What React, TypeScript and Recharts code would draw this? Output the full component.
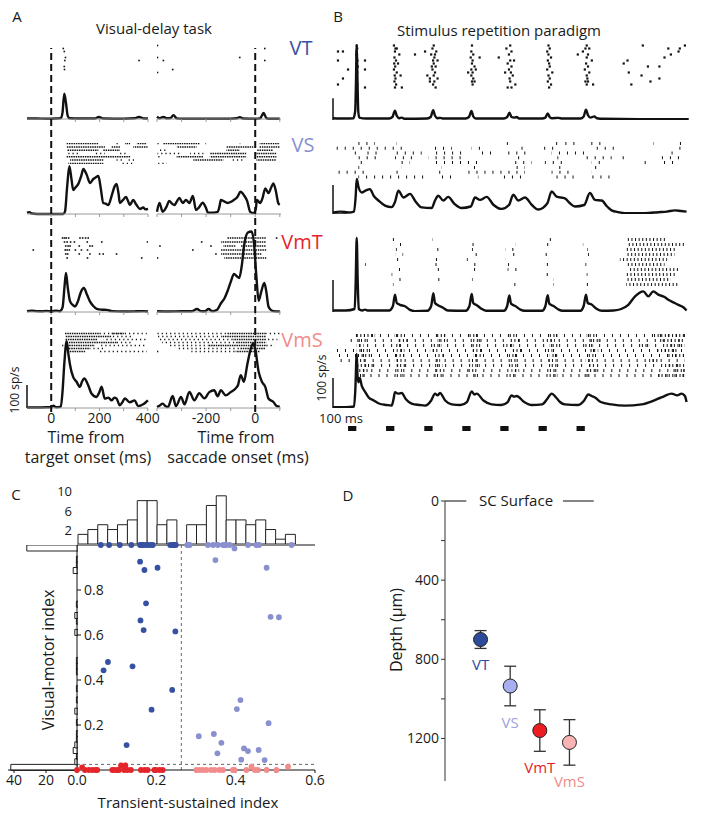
import React from 'react';
import {
  Bar,
  BarChart,
  ErrorBar,
  Line,
  LineChart,
  ReferenceArea,
  ReferenceLine,
  Scatter,
  ScatterChart,
  XAxis,
  YAxis,
} from 'recharts';

type Pt = [number, number];
type Seg = [number, number, number]; // trial, start, end

const INK = '#111';
const FONT = '"Open Sans", Lato, sans-serif';
const NO_MARGIN = { top: 0, right: 0, bottom: 0, left: 0 };

const BLUE = '#3650a2';
const LAV = '#8a8fd0';
const RED = '#e4262b';
const PINK = '#f28c8c';

// ---------- panel A: visual-delay task ----------
const A_LEFT: Pt = [-100, 400];
const A_RIGHT: Pt = [-400, 105];

const psthVtL: Pt[] = [[-100, 2], [-60, 2], [-20, 1], [20, 2], [40, 4], [47, 30], [54, 110], [61, 70], [68, 15], [76, 3], [120, 2], [180, 2], [197, 9], [215, 2], [300, 1], [345, 3], [363, 9], [385, 2], [400, 2]];
const psthVtR: Pt[] = [[-400, 10], [-390, 3], [-374, 9], [-360, 3], [-345, 4], [-333, 17], [-320, 3], [-300, 1], [-200, 1], [-100, 1], [-75, 3], [-63, 8], [-50, 2], [0, 1], [20, 3], [34, 26], [46, 3], [60, 1], [100, 1]];
const psthVsL: Pt[] = [[-100, 6], [-90, 8], [-80, 2], [-60, 0], [50, 0], [57, 10], [66, 120], [75, 208], [84, 150], [91, 104], [100, 115], [112, 131], [124, 165], [133, 196], [140, 185], [147, 170], [160, 135], [174, 152], [185, 160], [195, 165], [205, 110], [215, 48], [225, 45], [236, 39], [250, 80], [262, 120], [270, 131], [278, 90], [284, 48], [296, 60], [309, 74], [318, 55], [325, 39], [339, 61], [352, 40], [367, 22], [380, 28], [390, 20], [400, 22]];
const psthVsR: Pt[] = [[-400, 10], [-390, 48], [-377, 10], [-362, 30], [-350, 57], [-339, 45], [-329, 39], [-319, 55], [-309, 70], [-295, 48], [-282, 61], [-268, 48], [-254, 78], [-241, 17], [-228, 30], [-214, 49], [-200, 25], [-193, 6], [-170, 6], [-153, 9], [-145, 35], [-140, 61], [-127, 55], [-113, 48], [-100, 52], [-87, 61], [-72, 75], [-60, 97], [-45, 80], [-33, 57], [-20, 9], [-7, 4], [2, 20], [7, 61], [20, 48], [30, 70], [41, 111], [54, 91], [65, 115], [74, 133], [84, 100], [94, 47], [100, 40]];
const psthVmtL: Pt[] = [[-100, 4], [-80, 6], [-60, 4], [-40, 3], [-20, 5], [0, 3], [20, 6], [35, 3], [47, 20], [55, 110], [61, 170], [68, 110], [78, 46], [90, 30], [98, 24], [110, 45], [122, 85], [135, 104], [148, 75], [160, 46], [175, 25], [188, 14], [210, 10], [229, 9], [250, 4], [300, 2], [350, 3], [380, 4], [400, 2]];
const psthVmtR: Pt[] = [[-400, 3], [-350, 2], [-300, 3], [-260, 3], [-237, 13], [-220, 3], [-205, 3], [-190, 13], [-175, 3], [-155, 10], [-139, 39], [-125, 60], [-113, 90], [-100, 130], [-86, 165], [-75, 155], [-65, 148], [-55, 200], [-45, 290], [-30, 345], [-15, 350], [-5, 300], [5, 150], [14, 49], [25, 90], [37, 126], [45, 90], [54, 24], [65, 8], [74, 4], [100, 2]];
const psthVmsL: Pt[] = [[-100, 2], [-60, 2], [-20, 3], [0, 4], [10, 10], [20, 3], [40, 6], [47, 70], [55, 200], [64, 290], [72, 230], [78, 188], [91, 135], [105, 114], [119, 92], [128, 115], [137, 128], [153, 100], [167, 63], [188, 48], [200, 70], [209, 92], [222, 41], [237, 45], [250, 33], [262, 45], [271, 41], [284, 12], [295, 25], [305, 42], [325, 25], [346, 33], [360, 8], [381, 16], [392, 25], [401, 33]];
const psthVmsR: Pt[] = [[-400, 4], [-390, 10], [-377, 19], [-365, 8], [-356, 4], [-336, 52], [-323, 8], [-302, 48], [-288, 16], [-268, 70], [-248, 33], [-228, 64], [-207, 42], [-187, 69], [-167, 77], [-153, 51], [-140, 77], [-120, 55], [-100, 69], [-80, 85], [-70, 100], [-59, 143], [-46, 114], [-33, 185], [-20, 250], [-9, 280], [0, 257], [14, 157], [28, 113], [41, 92], [54, 41], [74, 26], [88, 8], [100, 6]];

// spike rasters: dots are [time, trial]
const vtLeftDots: Pt[] = [[50, 1], [54, 2], [59, 4], [56, 5], [54, 7], [55, 8], [363, 5]];
const vtRightDots: Pt[] = [[-398, 0], [-398, 4], [-374, 5], [-398, 9], [-336, 8], [-63, 4], [39, 1], [39, 5]];

const vsLeftDense: Seg[] = [[0, 64, 195], [0, 305, 326], [0, 353, 395], [1, 64, 222], [1, 250, 284], [1, 339, 398], [2, 64, 195], [2, 215, 284], [4, 64, 326], [5, 78, 215], [6, 71, 215]];
const vsLeftSparse: Seg[] = [[0, 270, 284], [3, 64, 122], [3, 181, 222], [3, 284, 312], [5, 270, 300], [5, 320, 350], [6, 290, 340]];
const vsRightDense: Seg[] = [[0, -374, -225], [0, 18, 100], [1, -320, -239], [1, -117, -8], [1, 18, 100], [2, -117, -63], [2, 5, 72], [3, -185, -37], [3, 5, 86], [4, -320, -211], [4, -185, -37], [4, 5, 86], [5, -252, -130], [5, 5, 86]];
const vsRightSparse: Seg[] = [[0, -398, -388], [0, -63, -51], [0, -214, -200], [2, -398, -361], [3, -398, -300], [3, -265, -211], [4, -398, -388], [5, -398, -390], [5, -100, -40], [6, -395, -360]];

const vmtLeftDots: Pt[] = [[47, 0], [55, 0], [62, 0], [72, 0], [119, 0], [130, 0], [142, 0], [153, 0], [55, 1], [66, 1], [80, 1], [96, 1], [149, 1], [209, 1], [398, 1], [60, 2], [70, 2], [78, 2], [116, 2], [160, 2], [170, 2], [-74, 3], [58, 3], [66, 3], [75, 3], [100, 3], [125, 3], [150, 3], [60, 4], [68, 4], [116, 4], [160, 4], [200, 4], [215, 4], [270, 4], [66, 5], [150, 5], [374, 5]];
const vmtRightDense: Seg[] = [[0, -113, 45], [1, -139, 45], [2, -130, -80], [2, -60, 45], [3, -139, 45], [4, -139, 25], [5, -126, 45]];
const vmtRightDots: Pt[] = [[-218, 1], [-388, 2], [-254, 3], [-398, 5], [87, 0], [-160, 4], [-180, 2]];

const vmsLeftDense: Seg[] = [[0, 57, 200], [0, 250, 300], [1, 57, 250], [2, 57, 190], [3, 64, 270], [4, 57, 180], [5, 57, 160], [6, 64, 140]];
const vmsLeftSparse: Seg[] = [[0, 200, 395], [1, 250, 340], [2, 215, 395], [3, 270, 330], [4, 36, 57], [4, 200, 395], [5, 160, 220], [6, 200, 395]];
const vmsRightDense: Seg[] = [[0, -113, 45], [1, -139, 45], [2, -90, 45], [3, -80, 45], [4, -190, 45], [5, -60, 40], [6, -80, 20]];
const vmsRightSparse: Seg[] = [[0, -398, -113], [0, 45, 100], [1, -398, -139], [2, -398, -90], [2, 45, 90], [3, -380, -80], [4, -350, -190], [4, 45, 80], [5, -320, -60], [6, -260, -80]];
const vmsRightDots: Pt[] = [[-398, 6]];

// ---------- panel B: stimulus repetition ----------
const B_DOMAIN: Pt = [0, 2800];
const stimOnsets = [118, 416, 716, 1014, 1312, 1612, 1910];
const stimDuration = 65;

const psthB1: Pt[] = [[0, 6], [100, 5], [160, 6], [174, 30], [180, 120], [186, 250], [192, 130], [198, 30], [206, 8], [260, 5], [440, 5], [466, 10], [486, 31], [500, 14], [520, 6], [540, 8], [560, 4], [740, 5], [766, 10], [786, 33], [800, 14], [820, 6], [840, 7], [860, 5], [1040, 5], [1066, 10], [1086, 30], [1100, 12], [1120, 5], [1340, 5], [1366, 10], [1384, 24], [1400, 10], [1420, 8], [1440, 10], [1460, 5], [1640, 5], [1666, 8], [1684, 22], [1700, 10], [1720, 6], [1767, 7], [1800, 5], [1940, 5], [1966, 12], [1984, 34], [2000, 16], [2020, 8], [2050, 12], [2070, 6], [2120, 4], [2400, 3], [2790, 3]];
const psthB2: Pt[] = [[0, 5], [60, 8], [120, 5], [165, 8], [178, 60], [186, 117], [200, 90], [225, 72], [255, 78], [290, 83], [320, 60], [356, 45], [408, 28], [460, 23], [486, 40], [513, 78], [552, 55], [604, 67], [650, 40], [695, 22], [774, 20], [800, 45], [826, 61], [865, 45], [904, 57], [950, 35], [1009, 20], [1080, 25], [1114, 55], [1153, 47], [1205, 57], [1260, 30], [1323, 17], [1380, 30], [1414, 64], [1453, 45], [1506, 55], [1560, 30], [1610, 15], [1680, 35], [1715, 75], [1754, 58], [1819, 52], [1860, 35], [1898, 25], [1970, 30], [2015, 70], [2055, 47], [2107, 45], [2150, 25], [2185, 12], [2240, 6], [2290, 3], [2447, 3], [2551, 6], [2620, 8], [2682, 12], [2730, 10], [2773, 8]];
const psthB3: Pt[] = [[0, 5], [100, 5], [170, 10], [178, 100], [186, 247], [194, 100], [202, 10], [230, 5], [251, 8], [270, 5], [440, 5], [470, 20], [486, 58], [500, 30], [525, 24], [565, 19], [600, 8], [643, 3], [740, 4], [770, 20], [787, 63], [800, 30], [826, 22], [860, 15], [900, 5], [1040, 4], [1070, 20], [1088, 60], [1100, 30], [1130, 22], [1160, 12], [1200, 4], [1340, 4], [1366, 20], [1383, 55], [1396, 28], [1430, 20], [1470, 8], [1500, 4], [1640, 4], [1666, 20], [1684, 56], [1696, 28], [1730, 20], [1770, 8], [1800, 4], [1940, 4], [1966, 20], [1984, 58], [1998, 30], [2028, 25], [2070, 10], [2110, 4], [2200, 5], [2260, 10], [2316, 24], [2369, 52], [2434, 69], [2473, 52], [2512, 69], [2551, 58], [2600, 50], [2630, 41], [2680, 30], [2708, 24], [2750, 15], [2773, 5]];
const psthB4: Pt[] = [[0, 3], [100, 3], [165, 5], [175, 60], [186, 180], [192, 110], [199, 86], [210, 100], [225, 75], [250, 55], [280, 35], [320, 25], [360, 15], [420, 10], [460, 8], [475, 30], [486, 53], [510, 48], [539, 50], [570, 30], [617, 15], [680, 10], [722, 8], [770, 25], [800, 48], [820, 42], [839, 50], [880, 25], [931, 12], [1000, 10], [1050, 20], [1088, 55], [1110, 45], [1127, 48], [1180, 25], [1244, 12], [1320, 10], [1370, 20], [1401, 42], [1420, 38], [1440, 40], [1500, 20], [1558, 10], [1640, 12], [1680, 30], [1715, 48], [1740, 40], [1780, 20], [1819, 12], [1924, 10], [1970, 25], [2002, 45], [2030, 40], [2055, 35], [2100, 20], [2185, 12], [2290, 8], [2421, 12], [2500, 22], [2551, 31], [2600, 40], [2656, 48], [2700, 42], [2734, 48], [2760, 40], [2773, 20]];

const b1Dots: Pt[] = [
  [39, 2], [78, 2], [39, 13], [118, 8], [78, 11], [251, 5], [251, 8], [251, 14], [39, 5],
  [186, 0], [190, 1], [184, 2], [188, 3], [186, 4], [192, 5], [185, 6], [189, 7], [186, 8], [190, 9], [184, 10], [188, 11], [186, 12], [191, 13], [187, 14], [185, 15], [182, 3], [194, 7], [183, 11],
  [478, 0], [490, 1], [500, 1], [486, 2], [520, 3], [482, 4], [494, 5], [480, 6], [510, 6], [488, 7], [478, 8], [500, 9], [484, 10], [530, 10], [490, 11], [482, 12], [495, 13], [486, 14], [540, 14], [643, 3], [722, 2],
  [790, 0], [780, 1], [810, 2], [770, 3], [800, 3], [795, 4], [785, 5], [820, 5], [790, 6], [775, 7], [805, 7], [780, 8], [800, 9], [790, 10], [760, 11], [820, 11], [795, 12], [785, 13], [805, 14], [740, 10], [760, 12],
  [1090, 0], [1085, 2], [1100, 3], [1080, 4], [1095, 5], [1090, 6], [1110, 7], [1085, 8], [1120, 8], [1095, 9], [1085, 10], [1100, 11], [1090, 12], [1110, 12], [1095, 13], [1060, 9], [1150, 4],
  [1390, 0], [1360, 1], [1400, 2], [1380, 3], [1300, 4], [1390, 5], [1420, 5], [1370, 6], [1400, 7], [1380, 8], [1350, 9], [1395, 9], [1410, 10], [1385, 11], [1390, 12], [1430, 13], [1370, 14], [1400, 14],
  [1690, 0], [1700, 1], [1680, 2], [1690, 3], [1710, 4], [1685, 5], [1695, 6], [1700, 7], [1680, 8], [1720, 9], [1690, 10], [1700, 11], [1685, 12], [1710, 13], [1695, 14],
  [1990, 0], [1980, 1], [2010, 1], [1960, 2], [2000, 3], [1990, 4], [2030, 5], [1985, 6], [2000, 7], [1975, 8], [2010, 9], [1990, 10], [1995, 11], [1980, 12], [2000, 12], [1990, 13], [2040, 13], [1920, 3],
  [2430, 0], [2760, 0], [2630, 1], [2710, 2], [2310, 5], [2280, 6], [2470, 7], [2560, 7], [2320, 9], [2420, 10], [2560, 11], [2650, 3], [2720, 1], [2600, 4], [2490, 12], [2340, 13],
];

const b2Ticks: Seg[] = [
  [0, 199, 329], [0, 499, 552], [0, 800, 839], [0, 1114, 1127], [0, 1323, 1401], [0, 1715, 1767], [0, 1793, 1924], [0, 2002, 2133], [0, 2512, 2564], [0, 2669, 2747],
  [1, 0, 552], [1, 800, 931], [1, 1087, 1166], [1, 1427, 1506], [1, 1610, 1767], [1, 2028, 2238], [1, 2682, 2760],
  [2, 120, 199], [2, 225, 356], [2, 460, 695], [2, 774, 1035], [2, 1140, 1244], [2, 1375, 1558], [2, 1715, 2002], [2, 2604, 2708],
  [3, 173, 382], [3, 486, 643], [3, 748, 1035], [3, 1401, 1480], [3, 1715, 1767], [3, 1950, 2185], [3, 2238, 2290], [3, 2551, 2760],
  [4, 173, 277], [4, 499, 604], [4, 774, 1140], [4, 1401, 1558], [4, 1662, 1819], [4, 2028, 2133], [4, 2394, 2473], [4, 2551, 2708],
  [5, 199, 251], [5, 539, 565], [5, 800, 852], [5, 1061, 1114], [5, 1401, 1506], [5, 1741, 1793], [5, 2028, 2107],
  [6, 0, 251], [6, 460, 539], [6, 800, 878], [6, 1035, 1506], [6, 1715, 1872], [6, 2028, 2055], [6, 2630, 2645],
  [7, 94, 120], [7, 199, 722], [7, 800, 931], [7, 1087, 1140], [7, 1297, 1506], [7, 1715, 1924], [7, 2002, 2211],
];

const b3Sparse: Seg[] = [
  [0, 470, 520], [0, 780, 830], [0, 1070, 1110], [0, 1350, 1390], [0, 1660, 1720], [0, 1960, 1990],
  [1, 16, 26], [1, 480, 540], [1, 760, 800], [1, 1060, 1120], [1, 1400, 1430], [1, 1680, 1740], [1, 1960, 2010],
  [2, 460, 500], [2, 790, 840], [2, 1090, 1130], [2, 1350, 1420], [2, 1670, 1700], [2, 1950, 2000], [2, 2200, 2220],
  [3, 490, 550], [3, 750, 800], [3, 983, 1000], [3, 1080, 1140], [3, 1380, 1440], [3, 1640, 1700], [3, 2000, 2030],
  [4, 100, 110], [4, 470, 520], [4, 780, 840], [4, 1050, 1090], [4, 1350, 1400], [4, 1700, 1740], [4, 1950, 1990],
  [5, 251, 260], [5, 356, 365], [5, 500, 540], [5, 760, 820], [5, 1070, 1120], [5, 1340, 1380], [5, 1650, 1700], [5, 1980, 2020],
  [6, 480, 530], [6, 790, 830], [6, 1080, 1130], [6, 1370, 1440], [6, 1680, 1720], [6, 1960, 2000],
  [7, 130, 140], [7, 460, 510], [7, 770, 810], [7, 1060, 1100], [7, 1297, 1310], [7, 1400, 1430], [7, 1540, 1560], [7, 1650, 1690], [7, 1990, 2030],
  [8, 20, 30], [8, 490, 530], [8, 800, 840], [8, 1090, 1140], [8, 1360, 1400], [8, 1680, 1730], [8, 1970, 2010],
  [9, 470, 510], [9, 780, 820], [9, 1070, 1110], [9, 1380, 1430], [9, 1690, 1730], [9, 1960, 2000],
];
const b3Dense: Seg[] = [
  [0, 180, 195], [1, 180, 195], [2, 180, 195], [3, 180, 195], [4, 180, 195], [5, 180, 195], [6, 180, 195], [7, 180, 195], [8, 180, 195], [9, 180, 195],
  [0, 2300, 2620], [1, 2320, 2760], [2, 2300, 2700], [3, 2290, 2680], [4, 2250, 2620], [5, 2300, 2600], [6, 2330, 2720], [7, 2300, 2700], [8, 2290, 2650], [9, 2300, 2710],
];

const b4Sparse: Seg[] = [[0, 180, 2760], [1, 100, 2760], [2, 150, 2760], [3, 0, 2760], [4, 0, 2760], [5, 60, 2760], [6, 150, 2760], [7, 120, 2760], [8, 200, 2760]];
const b4Dense: Seg[] = [
  [0, 186, 330], [0, 480, 560], [0, 800, 880], [0, 1060, 1150], [0, 1380, 1440], [0, 1700, 1760], [0, 1990, 2060], [0, 2500, 2760],
  [1, 186, 260], [1, 520, 600], [1, 820, 880], [1, 1100, 1180], [1, 1400, 1460], [1, 1660, 1740], [1, 2000, 2100], [1, 2560, 2760],
  [2, 186, 240], [2, 480, 540], [2, 780, 850], [2, 1090, 1140], [2, 1360, 1420], [2, 1700, 1780], [2, 1980, 2040], [2, 2400, 2480], [2, 2600, 2760],
  [3, 186, 280], [3, 500, 560], [3, 760, 820], [3, 1080, 1160], [3, 1400, 1480], [3, 1680, 1720], [3, 2020, 2080], [3, 2550, 2700],
  [4, 186, 300], [4, 490, 560], [4, 800, 860], [4, 1100, 1160], [4, 1380, 1460], [4, 1700, 1760], [4, 1990, 2050], [4, 2620, 2760],
  [5, 186, 250], [5, 480, 540], [5, 790, 840], [5, 1080, 1130], [5, 1390, 1440], [5, 1690, 1750], [5, 1980, 2040], [5, 2480, 2560],
  [6, 186, 320], [6, 500, 580], [6, 780, 860], [6, 1090, 1150], [6, 1380, 1450], [6, 1700, 1770], [6, 2000, 2060], [6, 2600, 2760],
  [7, 186, 280], [7, 490, 540], [7, 800, 850], [7, 1060, 1120], [7, 1400, 1460], [7, 1680, 1740], [7, 1990, 2080], [7, 2650, 2760],
  [8, 186, 260], [8, 480, 560], [8, 790, 860], [8, 1080, 1150], [8, 1370, 1430], [8, 1690, 1760], [8, 1970, 2030], [8, 2550, 2760],
];

// ---------- panel C: transient-sustained vs visual-motor index ----------
const vtPoints: Pt[] = [
  [0.159, 0.926], [0.17, 0.889], [0.203, 0.899], [0.174, 0.741], [0.16, 0.665], [0.168, 0.622], [0.248, 0.616], [0.078, 0.48], [0.067, 0.443], [0.14, 0.461], [0.24, 0.356], [0.188, 0.268], [0.125, 0.111],
  [0.06, 1], [0.081, 1], [0.108, 1], [0.137, 1], [0.159, 1], [0.163, 1], [0.167, 1], [0.174, 1], [0.18, 1], [0.187, 1], [0.191, 1], [0.235, 1], [0.241, 1], [0.245, 1], [0.249, 1],
];
const vsPoints: Pt[] = [
  [0.349, 0.933], [0.478, 0.899], [0.488, 0.681], [0.509, 0.679], [0.412, 0.311], [0.403, 0.271], [0.483, 0.208], [0.307, 0.15], [0.345, 0.16], [0.364, 0.121], [0.354, 0.074], [0.421, 0.096], [0.431, 0.084], [0.458, 0.089], [0.414, 0.046], [0.473, 0.044],
  [0.278, 1], [0.284, 1], [0.33, 1], [0.343, 1], [0.355, 1], [0.368, 1], [0.372, 1], [0.376, 1], [0.385, 1], [0.397, 0.985], [0.431, 1], [0.452, 1], [0.459, 1], [0.541, 1],
];
const vmtPoints: Pt[] = [
  [0.0, 0], [0.013, 0.012], [0.02, 0], [0.03, 0], [0.039, 0], [0.047, 0], [0.051, 0], [0.089, 0], [0.094, 0], [0.102, 0], [0.106, 0], [0.111, 0.02], [0.119, 0], [0.122, 0.02], [0.127, 0], [0.136, 0], [0.161, 0], [0.17, 0], [0.178, 0], [0.195, 0], [0.199, 0], [0.208, 0], [0.216, 0],
];
const vmsPoints: Pt[] = [
  [0.301, 0], [0.309, 0], [0.317, 0], [0.326, 0], [0.338, 0], [0.347, 0], [0.359, 0], [0.368, 0], [0.393, 0], [0.397, 0], [0.427, 0], [0.44, 0.015], [0.448, 0], [0.456, 0], [0.478, 0], [0.503, 0], [0.532, 0.015],
];
const tsThreshold = 0.263;
const vmThreshold = 0.025;

const tsBinStarts = [0, 0.025, 0.05, 0.075, 0.1, 0.125, 0.15, 0.175, 0.2, 0.225, 0.25, 0.275, 0.3, 0.325, 0.35, 0.375, 0.4, 0.425, 0.45, 0.475, 0.5, 0.525, 0.55, 0.575];
const tsCounts = [2, 3, 4, 3, 4, 5, 9, 9, 4, 5, 0, 4, 4, 8, 10, 5, 5, 4, 5, 3, 1, 2, 0, 0];
// visual-motor index bins of 0.025 from 0 to 1
const vmCounts = [42, 2, 1, 3, 2, 1, 1, 0, 1, 0, 2, 0, 1, 0, 1, 0, 0, 1, 1, 1, 0, 0, 0, 0, 2, 0, 1, 2, 0, 1, 0, 0, 0, 0, 0, 3, 1, 1, 0, 32];

// ---------- panel D: depth ----------
const depthGroups = ['VT', 'VS', 'VmT', 'VmS'];
const depthMeans = [700, 935, 1160, 1220];
const depthErrs = [45, 100, 105, 115];
const depthFills = ['#2c4b9b', '#a7aff0', '#ec1c24', '#f9b4b4'];
const depthLabelColors = ['#2e4a9a', '#9da3e0', '#e31e25', '#f08b8b'];

// ---------- helpers ----------
function Box({ x, y, children }: { x: number; y: number; children: React.ReactNode }) {
  return <div style={{ position: 'absolute', left: x, top: y }}>{children}</div>;
}

function Txt({ x, y, size = 14, color = '#1a1a1a', rotate = 0, children }: any) {
  return (
    <div
      style={{
        position: 'absolute',
        left: x,
        top: y,
        transform: `translate(-50%, -50%) rotate(${rotate}deg)`,
        fontSize: size,
        color,
        whiteSpace: 'nowrap',
        lineHeight: 1,
      }}
    >
      {children}
    </div>
  );
}

const hiddenShape = () => <g />;

type RasterProps = {
  x: number;
  y: number;
  w: number;
  h: number;
  domain: Pt;
  trials: number;
  dots?: Pt[];
  dense?: Seg[];
  sparse?: Seg[];
  ticks?: boolean;
  dotSize?: number;
};

function Raster({ x, y, w, h, domain, trials, dots = [], dense = [], sparse = [], ticks = false, dotSize = 1.6 }: RasterProps) {
  const data = dots.map(([t, trial]) => ({ t, trial }));
  // invisible corners so the axes always exist, even for rasters drawn only from segments
  const frame = [{ t: domain[0], trial: 0 }, { t: domain[1], trial: trials - 1 }];
  const sw = ticks ? 3 : 1.4;
  const denseDash = ticks ? '1 2.6' : '1.5 0.8';
  const sparseDash = ticks ? '1 7' : '1.2 3';
  const seg = (s: Seg, i: number, dash: string, k: string) => (
    <ReferenceLine
      key={k + i}
      segment={[{ x: s[1], y: s[0] }, { x: s[2], y: s[0] }]}
      stroke={INK}
      strokeWidth={sw}
      strokeDasharray={dash}
      strokeDashoffset={(s[0] * 2.3 + i * 0.7) % 5}
    />
  );
  return (
    <Box x={x} y={y}>
      <ScatterChart width={w} height={h} margin={NO_MARGIN}>
        <XAxis type="number" dataKey="t" domain={domain} hide />
        <YAxis type="number" dataKey="trial" domain={[-0.5, trials - 0.5]} reversed hide />
        <Scatter data={frame} isAnimationActive={false} shape={hiddenShape} />
        {dense.map((s, i) => seg(s, i, denseDash, 'd'))}
        {sparse.map((s, i) => seg(s, i, sparseDash, 's'))}
        <Scatter
          data={data}
          isAnimationActive={false}
          shape={(p: any) => (
            <rect x={p.cx - dotSize / 2} y={p.cy - dotSize / 2} width={dotSize} height={dotSize} fill={INK} />
          )}
        />
      </ScatterChart>
    </Box>
  );
}

type PsthProps = {
  x: number;
  baseline: number;
  w: number;
  h: number;
  domain: Pt;
  maxRate: number;
  data: Pt[];
  ticks?: number[];
  labels?: number[];
  bars?: { x0: number; y0: number; x1: number; y1: number }[];
};

const PAD = 14;

function Psth({ x, baseline, w, h, domain, maxRate, data, ticks, labels = [], bars = [] }: PsthProps) {
  const rows = data.map(([t, r]) => ({ t, r }));
  const axisH = ticks ? (labels.length ? 22 : 4) : 0;
  return (
    <Box x={x - PAD} y={baseline - h}>
      <LineChart width={w + 2 * PAD} height={h + axisH} data={rows} margin={{ top: 0, right: PAD, bottom: 0, left: PAD }}>
        <XAxis
          type="number"
          dataKey="t"
          domain={domain}
          hide={!ticks}
          ticks={ticks}
          interval={0}
          height={axisH}
          stroke="#9a9a9a"
          tickSize={3}
          tick={{ fontSize: 14, fill: '#1a1a1a' }}
          tickFormatter={(v: number) => (labels.includes(v) ? String(v) : '')}
        />
        <YAxis type="number" domain={[0, maxRate]} hide />
        {bars.map((b, i) => (
          <ReferenceLine
            key={i}
            segment={[{ x: b.x0, y: b.y0 }, { x: b.x1, y: b.y1 }]}
            stroke={INK}
            strokeWidth={1.5}
            ifOverflow="visible"
          />
        ))}
        <Line dataKey="r" type="monotone" stroke={INK} strokeWidth={2.4} dot={false} isAnimationActive={false} />
      </LineChart>
    </Box>
  );
}

function EventLine({ x, y, w, h, domain }: { x: number; y: number; w: number; h: number; domain: Pt }) {
  const frame = [{ t: domain[0], v: 0 }, { t: domain[1], v: 0 }];
  return (
    <Box x={x} y={y}>
      <LineChart width={w} height={h} data={frame} margin={NO_MARGIN}>
        <XAxis type="number" dataKey="t" domain={domain} hide />
        <YAxis type="number" domain={[0, 1]} hide />
        <Line dataKey="v" stroke="none" dot={false} isAnimationActive={false} />
        <ReferenceLine x={0} stroke={INK} strokeWidth={2} strokeDasharray="7 4" />
      </LineChart>
    </Box>
  );
}

function StimBars() {
  const frame = [{ t: B_DOMAIN[0], v: 0 }, { t: B_DOMAIN[1], v: 1 }];
  return (
    <Box x={333} y={426}>
      <ScatterChart width={357} height={5} margin={NO_MARGIN}>
        <XAxis type="number" dataKey="t" domain={B_DOMAIN} hide />
        <YAxis type="number" dataKey="v" domain={[0, 1]} hide />
        <Scatter data={frame} isAnimationActive={false} shape={hiddenShape} />
        {stimOnsets.map((t) => (
          <ReferenceArea key={t} x1={t} x2={t + stimDuration} y1={0} y2={1} fill="#111" fillOpacity={1} stroke="none" />
        ))}
      </ScatterChart>
    </Box>
  );
}

const dotShape = (color: string) => (p: any) => <circle cx={p.cx} cy={p.cy} r={2.9} fill={color} />;

function PanelC() {
  const toRows = (pts: Pt[]) => pts.map(([ts, vm]) => ({ ts, vm }));
  const tsHist = tsBinStarts.map((bin, i) => ({ bin, count: tsCounts[i] }));
  const vmHist = vmCounts.map((count, i) => ({ bin: i, count }));
  const labelled = [0, 0.2, 0.4, 0.6];
  return (
    <>
      {/* top histogram */}
      <Box x={54} y={483}>
        <BarChart width={261} height={61} data={tsHist} margin={{ top: 8, right: 0, bottom: 0, left: 0 }} barCategoryGap={0} barGap={0}>
          <XAxis dataKey="bin" hide />
          <YAxis
            type="number"
            domain={[0, 11]}
            ticks={[2, 6, 10]}
            interval={0}
            width={24}
            axisLine={false}
            tickLine={false}
            tickMargin={0}
            tick={{ fontSize: 13, fill: '#1a1a1a', dy: -4 }}
          />
          <Bar dataKey="count" fill="#fff" stroke="#222" strokeWidth={1} isAnimationActive={false} />
        </BarChart>
      </Box>
      {/* left histogram */}
      <Box x={2} y={545}>
        <BarChart layout="vertical" width={76} height={245} data={vmHist} margin={{ top: 0, right: 0, bottom: 0, left: 6 }} barCategoryGap={0} barGap={0}>
          <XAxis
            type="number"
            domain={[0, 43.75]}
            reversed
            ticks={[20, 40]}
            interval={0}
            height={20}
            tickSize={3}
            stroke={INK}
            tick={{ fontSize: 14, fill: '#1a1a1a' }}
          />
          <YAxis type="category" dataKey="bin" reversed hide />
          <Bar dataKey="count" fill="#fff" stroke="#222" strokeWidth={1} isAnimationActive={false} />
        </BarChart>
      </Box>
      {/* main scatter */}
      <Box x={64} y={540}>
        <ScatterChart width={265} height={250} margin={{ top: 5, right: 14, bottom: 0, left: 13 }}>
          <XAxis
            type="number"
            dataKey="ts"
            domain={[0, 0.6]}
            ticks={[0, 0.1, 0.2, 0.3, 0.4, 0.5, 0.6]}
            interval={0}
            height={20}
            tickSize={3}
            stroke={INK}
            tick={{ fontSize: 14, fill: '#1a1a1a' }}
            tickFormatter={(v: number) => (labelled.some((l) => Math.abs(l - v) < 1e-6) ? v.toFixed(1) : '')}
          />
          <YAxis
            type="number"
            dataKey="vm"
            domain={[0, 1]}
            ticks={[0.2, 0.4, 0.6, 0.8]}
            interval={0}
            width={1}
            mirror
            tickSize={4}
            tickMargin={3}
            stroke={INK}
            tick={{ fontSize: 14, fill: '#1a1a1a' }}
            tickFormatter={(v: number) => v.toFixed(1)}
          />
          <ReferenceLine y={1} stroke={INK} strokeWidth={1.2} />
          <ReferenceLine x={tsThreshold} stroke="#666" strokeDasharray="3 3" />
          <ReferenceLine y={vmThreshold} stroke="#666" strokeDasharray="3 3" />
          <Scatter data={toRows(vtPoints)} isAnimationActive={false} shape={dotShape(BLUE)} />
          <Scatter data={toRows(vsPoints)} isAnimationActive={false} shape={dotShape(LAV)} />
          <Scatter data={toRows(vmtPoints)} isAnimationActive={false} shape={dotShape(RED)} />
          <Scatter data={toRows(vmsPoints)} isAnimationActive={false} shape={dotShape(PINK)} />
        </ScatterChart>
      </Box>
      <Txt x={16} y={494} size={15}>C</Txt>
      <Txt x={188} y={802} size={15}>Transient-sustained index</Txt>
      <Txt x={48} y={660} size={16} rotate={-90}>Visual-motor index</Txt>
    </>
  );
}

function PanelD() {
  const points = depthGroups.map((name, i) => ({ g: i + 1, depth: depthMeans[i], err: depthErrs[i], fill: depthFills[i] }));
  const labels = depthGroups.map((name, i) => ({ g: i + 1, depth: depthMeans[i] + depthErrs[i] + 80, name, color: depthLabelColors[i] }));
  return (
    <>
      <Box x={400} y={491}>
        <ScatterChart width={210} height={310} margin={{ top: 10, right: 5, bottom: 20, left: 0 }}>
          <XAxis type="number" dataKey="g" domain={[-0.2, 5.2]} hide />
          <YAxis
            type="number"
            dataKey="depth"
            domain={[0, 1400]}
            reversed
            ticks={[0, 200, 400, 600, 800, 1000, 1200]}
            interval={0}
            width={45}
            tickSize={4}
            stroke="#333"
            tick={{ fontSize: 14, fill: '#1a1a1a' }}
            tickFormatter={(v: number) => (v % 400 === 0 ? String(v) : '')}
          />
          <ReferenceLine segment={[{ x: -0.2, y: 0 }, { x: 0.52, y: 0 }]} stroke="#333" strokeWidth={1.2} />
          <ReferenceLine segment={[{ x: 3.78, y: 0 }, { x: 4.82, y: 0 }]} stroke="#333" strokeWidth={1.2} />
          <Scatter
            data={points}
            isAnimationActive={false}
            shape={(p: any) => <circle cx={p.cx} cy={p.cy} r={7} fill={p.payload.fill} stroke="#222" strokeWidth={1} />}
          >
            <ErrorBar dataKey="err" direction="y" width={6} stroke="#333" strokeWidth={1.3} />
          </Scatter>
          <Scatter
            data={labels}
            isAnimationActive={false}
            shape={(p: any) => (
              <text x={p.cx} y={p.cy} textAnchor="middle" dominantBaseline="central" fill={p.payload.color} fontSize={15}>
                {p.payload.name}
              </text>
            )}
          />
        </ScatterChart>
      </Box>
      <Txt x={348} y={495} size={15}>D</Txt>
      <Txt x={516} y={500} size={15}>SC Surface</Txt>
      <Txt x={396} y={630} size={16} rotate={-90}>Depth  (µm)</Txt>
    </>
  );
}

const A_RATE_MAX = 391;
const B_RATE_MAX = 267;
const leftTicks = [0, 100, 200, 300, 400];
const rightTicks = [-400, -300, -200, -100, 0, 100];

export default function App() {
  return (
    <div style={{ position: 'relative', width: 702, height: 815, background: '#fff', fontFamily: FONT, overflow: 'hidden' }}>
      <style>{'body{margin:0}'}</style>

      {/* Panel A */}
      <Txt x={17} y={16} size={15}>A</Txt>
      <Txt x={154} y={28} size={15}>Visual-delay task</Txt>

      <Raster x={27} y={43.5} w={121} h={30} domain={A_LEFT} trials={10} dots={vtLeftDots} />
      <Raster x={157} y={43.5} w={124} h={30} domain={A_RIGHT} trials={10} dots={vtRightDots} />
      <Psth x={27} baseline={119} w={121} h={90} domain={A_LEFT} maxRate={A_RATE_MAX} data={psthVtL} ticks={leftTicks} />
      <Psth x={157} baseline={119} w={124} h={90} domain={A_RIGHT} maxRate={A_RATE_MAX} data={psthVtR} ticks={rightTicks} />

      <Raster x={27} y={142} w={121} h={23} domain={A_LEFT} trials={7} dense={vsLeftDense} sparse={vsLeftSparse} />
      <Raster x={157} y={142} w={124} h={23} domain={A_RIGHT} trials={7} dense={vsRightDense} sparse={vsRightSparse} />
      <Psth x={27} baseline={214} w={121} h={90} domain={A_LEFT} maxRate={A_RATE_MAX} data={psthVsL} ticks={leftTicks} />
      <Psth x={157} baseline={214} w={124} h={90} domain={A_RIGHT} maxRate={A_RATE_MAX} data={psthVsR} ticks={rightTicks} />

      <Raster x={27} y={236} w={121} h={24} domain={A_LEFT} trials={6} dots={vmtLeftDots} />
      <Raster x={157} y={236} w={124} h={24} domain={A_RIGHT} trials={6} dense={vmtRightDense} dots={vmtRightDots} />
      <Psth x={27} baseline={312} w={121} h={90} domain={A_LEFT} maxRate={A_RATE_MAX} data={psthVmtL} ticks={leftTicks} />
      <Psth x={157} baseline={312} w={124} h={90} domain={A_RIGHT} maxRate={A_RATE_MAX} data={psthVmtR} ticks={rightTicks} />

      <Raster x={27} y={332} w={121} h={21} domain={A_LEFT} trials={7} dense={vmsLeftDense} sparse={vmsLeftSparse} />
      <Raster x={157} y={332} w={124} h={21} domain={A_RIGHT} trials={7} dense={vmsRightDense} sparse={vmsRightSparse} dots={vmsRightDots} />
      <Psth
        x={27}
        baseline={408}
        w={121}
        h={90}
        domain={A_LEFT}
        maxRate={A_RATE_MAX}
        data={psthVmsL}
        ticks={leftTicks}
        labels={[0, 200, 400]}
        bars={[{ x0: -100, y0: 0, x1: -100, y1: 100 }]}
      />
      <Psth x={157} baseline={408} w={124} h={90} domain={A_RIGHT} maxRate={A_RATE_MAX} data={psthVmsR} ticks={rightTicks} labels={[-200, 0]} />

      <EventLine x={27} y={48} w={121} h={364} domain={A_LEFT} />
      <EventLine x={157} y={48} w={124} h={364} domain={A_RIGHT} />

      <Txt x={301} y={48} size={20} color={BLUE}>VT</Txt>
      <Txt x={303} y={145} size={20} color={LAV}>VS</Txt>
      <Txt x={302} y={242} size={20} color={RED}>VmT</Txt>
      <Txt x={302} y={340} size={20} color={PINK}>VmS</Txt>
      <Txt x={15} y={390} size={12} rotate={-90}>100 sp/s</Txt>
      <Txt x={86} y={437} size={16}>Time from</Txt>
      <Txt x={88} y={457} size={16}>target onset (ms)</Txt>
      <Txt x={236} y={437} size={16}>Time from</Txt>
      <Txt x={238} y={457} size={16}>saccade onset (ms)</Txt>

      {/* Panel B */}
      <Txt x={338} y={16} size={15}>B</Txt>
      <Txt x={499} y={30} size={15}>Stimulus repetition paradigm</Txt>

      <Raster x={333} y={43.5} w={357} h={48} domain={B_DOMAIN} trials={16} dots={b1Dots} dotSize={2.2} />
      <Psth x={333} baseline={120} w={357} h={80} domain={B_DOMAIN} maxRate={B_RATE_MAX} data={psthB1} bars={[{ x0: 0, y0: 0, x1: 0, y1: 73 }]} />

      <Raster x={333} y={140.6} w={357} h={38.4} domain={B_DOMAIN} trials={8} sparse={b2Ticks} ticks />
      <Psth
        x={333}
        baseline={214}
        w={357}
        h={80}
        domain={B_DOMAIN}
        maxRate={B_RATE_MAX}
        data={psthB2}
        bars={[{ x0: 0, y0: 0, x1: 0, y1: 97 }, { x0: 0, y0: 0, x1: 110, y1: 0 }]}
      />

      <Raster x={333} y={236.5} w={357} h={50} domain={B_DOMAIN} trials={10} dense={b3Dense} sparse={b3Sparse} ticks />
      <Psth x={333} baseline={312} w={357} h={80} domain={B_DOMAIN} maxRate={B_RATE_MAX} data={psthB3} bars={[{ x0: 0, y0: 0, x1: 0, y1: 107 }]} />

      <Raster x={333} y={332.5} w={357} h={45} domain={B_DOMAIN} trials={9} dense={b4Dense} sparse={b4Sparse} ticks />
      <Psth
        x={333}
        baseline={408}
        w={357}
        h={80}
        domain={B_DOMAIN}
        maxRate={B_RATE_MAX}
        data={psthB4}
        bars={[{ x0: 0, y0: 0, x1: 0, y1: 100 }, { x0: 0, y0: 0, x1: 100, y1: 0 }]}
      />
      <StimBars />
      <Txt x={322} y={378} size={12} rotate={-90}>100 sp/s</Txt>
      <Txt x={341} y={418} size={13}>100 ms</Txt>

      <PanelC />
      <PanelD />
    </div>
  );
}
